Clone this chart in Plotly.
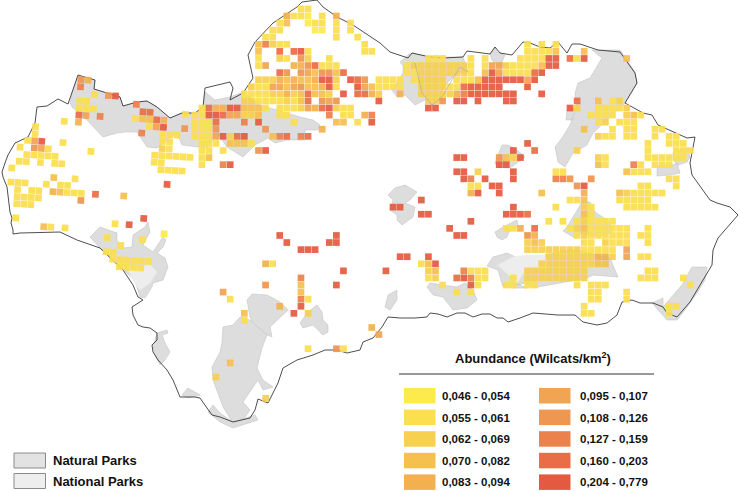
import math
import plotly.graph_objects as go

# Abundance class (0-9) of each grid cell, given as (row, first column, classes); '.' leaves a gap.
# Eastern part of the map, on the UTM zone 30 grid.
east_cells = [
(0,41,"11"),(1,39,"4110"),(1,44,"1"),(1,46,"4"),(2,38,"13"),(2,42,"011"),(2,46,"1"),(2,48,"1"),
(3,37,"11"),(3,43,"00"),(3,46,"1"),(3,48,"1"),(4,36,"11"),(4,46,"1"),(4,49,"1"),
(5,35,"37211"),(5,50,"1"),(5,73,"1"),(5,75,"1"),(5,77,"1"),
(6,35,"3"),(6,38,"8"),(6,40,"891"),(6,50,"11"),(6,73,"11113"),(6,81,"3"),
(7,35,"1"),(7,38,"21"),(7,41,"62"),(7,45,"1"),(7,59,"111"),(7,65,"1"),(7,67,"1"),(7,72,"111199"),(7,79,"819"),(7,87,"3"),
(8,35,"15"),(8,40,"4468111"),(8,56,"1222222221"),(8,67,"15521111399"),
(9,38,"86"),(9,41,"6536638"),(9,56,"1122222221"),(9,67,"395111189"),
(10,35,"222434334992"),(10,48,"986"),(10,52,"1111"),(10,57,"1"),(10,58,"2222"),(10,63,"111399999959"),
(11,34,"2115535633491"),(11,49,"9531111"),(11,58,"2222"),(11,62,"11899999"),(11,73,"9"),
(12,33,"1111224238332"),(12,47,"9"),(12,49,"8842"),(12,55,"4"),(12,58,"2222"),(12,62,"2479999999"),(12,75,"9"),
(13,33,"2211112138"),(13,44,"656"),(13,52,"9"),(13,59,"226"),(13,63,"99"),(13,66,"9"),(13,70,"99"),(13,80,"8"),(13,83,"3"),(13,85,"12"),
(14,27,"1844993331"),(14,38,"11125489211"),(14,59,"99"),(14,79,"92"),(14,83,"11112"),
(15,26,"1199855223"),(15,38,"11"),(15,45,"7"),(15,47,"11"),(15,50,"47"),(15,82,"1111"),(15,87,"231"),
(16,26,"1118"),(16,33,"7"),(16,35,"9"),(16,40,"1"),(16,46,"33"),(16,49,"1"),(16,51,"9"),(16,83,"12"),(16,86,"111"),
(17,26,"1116"),(17,36,"6"),(17,44,"4"),(17,81,"3"),(17,85,"1"),(17,87,"11"),(17,91,"11"),
(18,26,"11159289"),(18,37,"378"),(18,41,"78"),(18,83,"211"),(18,87,"11"),(18,91,"1"),(18,93,"11"),
(19,27,"111"),(19,31,"333"),(19,34,"1"),(19,73,"9"),(19,90,"1"),(19,93,"111"),
(20,27,"11"),(20,30,"1"),(20,35,"69"),(20,71,"9"),(20,74,"8"),(20,80,"2"),(20,90,"1"),(20,94,"111"),
(21,27,"13"),(21,63,"99"),(21,69,"6329"),(21,83,"21"),(21,90,"111111"),
(22,27,"1"),(22,30,"79"),(22,69,"99"),(22,83,"31"),(22,88,"71"),(22,91,"111"),
(23,63,"99"),(23,66,"2"),(23,71,"9"),(23,77,"11"),(23,87,"3111"),
(24,64,"97"),(24,67,"9"),(24,71,"9"),(24,77,"776"),(24,82,"6"),(24,93,"11"),
(25,65,"11"),(25,68,"99"),(25,80,"69"),(25,89,"11"),(25,94,"1"),
(26,65,"49"),(26,69,"9"),(26,75,"3"),(26,81,"4"),(26,86,"3211111"),
(27,58,"9"),(27,79,"113"),(27,86,"11111"),
(28,54,"99"),(28,71,"9"),(28,77,"1"),(28,81,"21"),(28,87,"11111"),
(29,58,"99"),(29,70,"9998"),(29,81,"31"),
(30,65,"9"),(30,76,"1"),(30,78,"1"),(30,80,"121111"),
(31,62,"9"),(31,70,"114"),(31,74,"8"),(31,79,"123111111"),(31,90,"1"),
(32,38,"9"),(32,46,"9"),(32,63,"99"),(32,73,"64"),(32,80,"12111111"),(32,89,"11"),
(33,39,"9"),(33,45,"99"),(33,73,"232"),(33,81,"11"),(33,84,"2111"),(33,90,"1"),
(34,41,"999"),(34,73,"2222222211111"),(34,87,"5"),
(35,55,"99"),(35,59,"9"),(35,76,"2222222442"),(35,87,"5"),(35,89,"11"),
(36,36,"41"),(36,58,"139"),(36,75,"2222222233"),
(37,47,"9"),(37,53,"9"),(37,59,"23"),(37,64,"7111"),(37,73,"222222222"),(37,90,"11"),
(38,41,"7"),(38,59,"12"),(38,63,"89711"),(38,71,"1"),(38,73,"22"),(38,75,"2222222"),(38,89,"111"),(38,95,"1"),
(39,36,"6"),(39,41,"3"),(39,46,"9"),(39,61,"1"),(39,65,"91"),(39,70,"11"),(39,73,"11"),(39,80,"1"),(39,82,"111"),(39,96,"1"),
(40,30,"5"),(40,41,"3"),(40,63,"1"),(40,65,"1"),(40,82,"11"),(40,87,"1"),
(41,31,"1"),(41,41,"71"),(41,82,"11"),(41,87,"1"),
(42,38,"4"),(42,41,"9"),(42,81,"1"),(42,93,"11"),
(43,33,"3"),(43,40,"9"),(43,42,"2"),(43,81,"11"),(43,93,"1"),
(44,33,"1"),(45,51,"4"),(46,52,"5"),(48,42,"1"),(48,46,"61"),(50,31,"3"),(52,29,"2"),(55,36,"2"),
]

# Western part of the map, on the slightly rotated UTM zone 29 grid.
west_cells = [
(0,0,"64"),(1,0,"7"),(2,2,"1"),(2,4,"69"),(3,0,"11"),(3,8,"7"),(4,0,"111"),(4,9,"88"),(4,15,"1"),
(5,0,"85"),(5,3,"7"),(5,8,"13384"),(6,-2,"1"),(6,0,"4"),(6,10,"159"),(6,15,"6"),
(7,-6,"1"),(7,9,"7"),(7,12,"111"),(8,-6,"1"),(8,12,"11"),(9,-7,"159"),(9,-2,"1"),(9,12,"21"),
(10,-8,"1"),(10,-6,"651"),(10,2,"1"),(10,11,"111"),(10,14,"111"),
(11,-7,"11111"),(11,11,"11"),(12,-8,"11"),(12,-5,"1"),(12,-3,"11"),(12,12,"1111"),(13,-9,"1"),
(14,-3,"3"),(14,0,"1"),(14,13,"9"),(15,-9,"111"),(15,-4,"1"),(15,-2,"11"),
(16,-8,"1"),(16,-6,"11"),(16,-3,"43111"),(16,3,"8"),(16,7,"3"),
(17,-8,"1111"),(17,1,"6"),(18,-8,"111"),(19,10,"9"),(20,-8,"1"),(20,6,"1"),(20,8,"9"),
(21,-4,"31"),(21,-1,"1"),(21,13,"0"),(22,5,"1"),(22,10,"1"),(23,7,"1"),
(24,5,"11"),(25,6,"111111"),(26,7,"1111"),
]

class_colors = ["#FDEB4C","#FBDF4F","#F8D04F","#F5C04E","#F3B04E","#F1A552","#EF9650","#EB824C","#E96D46","#E45A41"]
range_labels = ["0,046 - 0,054","0,055 - 0,061","0,062 - 0,069","0,070 - 0,082","0,083 - 0,094",
                "0,095 - 0,107","0,108 - 0,126","0,127 - 0,159","0,160 - 0,203","0,204 - 0,779"]

region_border = [(13,234),(13,230),(11,223),(12,218),(10,212),(8,198),(7,187),(3,177),(2,172),(5,163),(8,155),(15,143),(28,137),(35,123),(37,107),(47,106),(58,99),(68,104),(72,93),(78,75),(95,80),(94,89),(107,93),(120,97),(123,106),(137,102),(147,101),(157,107),(170,118),(182,113),(195,113),(203,107),(205,88),(230,82),(233,88),(230,100),(243,93),(253,78),(248,55),(255,42),(273,23),(297,7),(302,2),(317,0),(323,7),(337,17),(353,25),(372,38),(380,43),(390,52),(408,58),(412,53),(430,57),(443,58),(463,57),(467,51),(490,54),(495,47),(500,53),(512,55),(523,42),(530,43),(540,47),(550,48),(558,42),(567,53),(572,44),(580,44),(598,50),(620,52),(635,73),(637,83),(625,103),(643,113),(652,115),(658,125),(677,133),(687,138),(695,137),(690,163),(692,175),(710,200),(717,203),(730,207),(738,215),(732,222),(718,238),(713,250),(712,265),(703,280),(697,290),(690,302),(677,317),(667,313),(663,307),(653,303),(640,303),(632,300),(622,302),(617,315),(607,323),(597,325),(583,322),(575,315),(558,315),(533,313),(520,318),(508,322),(503,318),(497,318),(490,314),(482,314),(473,317),(465,313),(457,313),(447,317),(438,314),(430,313),(427,317),(415,318),(400,318),(388,317),(382,327),(373,338),(363,342),(360,350),(347,353),(337,350),(325,350),(313,355),(297,360),(283,368),(278,383),(268,403),(258,399),(255,410),(250,418),(233,422),(220,417),(212,415),(207,408),(200,398),(195,397),(180,397),(173,380),(167,370),(158,360),(153,352),(152,345),(157,340),(157,333),(150,328),(143,327),(138,325),(133,315),(132,307),(143,300),(138,297),(133,285),(123,270),(100,248),(77,240),(60,232),(20,233),(13,234)]

natural_parks = [
[(70,103),(72,93),(78,76),(95,80),(94,89),(107,93),(120,97),(123,106),(137,102),(147,101),(157,107),(170,118),(182,113),(195,113),(203,107),(205,92),(215,100),(230,97),(243,92),(260,105),(300,117),(313,120),(320,125),(318,130),(305,130),(305,140),(287,140),(275,143),(268,138),(255,145),(243,157),(227,147),(217,133),(207,148),(197,147),(182,145),(177,133),(167,140),(157,148),(147,147),(137,132),(125,132),(117,133),(103,137),(87,120),(72,107)],
[(408,55),(412,53),(430,57),(463,57),(468,72),(457,73),(448,82),(443,88),(440,100),(432,105),(425,100),(415,105),(405,95),(397,97),(392,90),(403,73),(403,66),(400,62)],
[(495,47),(497,52),(505,55),(502,62),(505,65),(500,68),(492,60),(490,54)],
[(592,50),(620,50),(635,72),(637,83),(625,103),(612,115),(602,125),(593,133),(587,145),(573,153),(565,167),(558,162),(555,147),(562,138),(570,125),(577,107),(575,93),(578,83),(590,78),(602,58)],
[(567,110),(575,108),(572,120),(566,120)],
[(673,153),(687,148),(690,157),(687,162),(678,165),(673,160)],
[(657,167),(662,162),(668,167),(677,163),(680,173),(670,175),(657,176)],
[(563,231),(567,227),(582,202),(590,202),(595,212),(610,222),(612,232),(600,237),(580,233),(575,238)],
[(487,266),(493,257),(507,253),(522,260),(570,250),(577,250),(610,258),(618,277),(593,275),(587,278),(533,288),(525,283),(518,285),(515,283),(527,288),(515,288),(503,287),(498,270)],
[(497,237),(495,232),(503,227),(517,220),(518,227),(510,230),(507,237),(502,240)],
[(388,195),(395,188),(405,185),(417,192),(410,200),(405,203),(415,207),(413,217),(402,225),(397,220),(397,215),(390,210),(393,200)],
[(495,163),(502,145),(508,145),(517,150),(525,157),(518,162),(510,168),(498,167)],
[(427,287),(430,283),(442,285),(457,287),(465,283),(473,290),(477,300),(467,308),(453,310),(443,297),(433,295)],
[(385,307),(388,295),(397,290),(397,300),(390,310)],
[(300,323),(308,312),(317,305),(322,312),(323,320),(328,325),(328,332),(323,335),(313,325),(303,328)],
[(247,300),(252,294),(267,295),(280,302),(288,310),(277,320),(270,327),(272,337),(263,333),(255,328),(250,317)],
[(223,327),(233,325),(240,317),(250,320),(267,335),(262,348),(257,368),(263,380),(273,387),(263,390),(258,380),(243,402),(250,410),(243,420),(233,423),(223,407),(213,380),(212,367),(220,352),(222,342)],
[(208,412),(213,405),(220,413),(233,422),(255,415),(258,420),(233,428),(220,422)],
[(90,237),(100,227),(117,233),(117,240),(120,248),(123,248),(132,247),(133,235),(145,227),(148,222),(150,232),(143,245),(153,252),(163,237),(166,240),(163,247),(157,253),(165,258),(168,267),(163,280),(153,283),(152,287),(145,298),(140,297),(135,280),(123,270),(100,248)],
[(652,303),(663,298),(663,307),(678,290),(682,285),(692,267),(707,267),(705,280),(697,293),(685,310),(677,320),(667,320)],
[(188,388),(197,393),(200,395),(188,398),(182,395)],
[(157,333),(167,330),(168,333),(162,335),(165,343),(170,352),(165,360),(160,365),(155,355),(153,347)],
]
national_parks = [
[(498,265),(513,257),(527,255),(547,255),(547,267),(527,268),(517,283),(507,273)],
[(127,267),(150,265),(157,272),(150,283),(140,290),(133,280)],
]
park_divide = [(415,63),(422,93),(432,105),(442,97),(452,80),(460,67),(468,72)]

GRID_STEP = 7.08
EAST_ORIGIN = (10.7, 8.9)
WEST_ORIGIN = (81.0, 79.7)
WEST_TILT = 0.06


def expand(cells):
    out = []
    for row, col0, classes in cells:
        for i, ch in enumerate(classes):
            if ch != ".":
                out.append((col0 + i, row, int(ch)))
    return out


fig = go.Figure()
for poly in natural_parks:
    fig.add_trace(go.Scatter(x=[p[0] for p in poly] + [poly[0][0]], y=[p[1] for p in poly] + [poly[0][1]],
                             mode="lines", fill="toself", fillcolor="#DDDDDD",
                             line=dict(color="#BDBDBD", width=0.5), hoverinfo="skip"))
for poly in national_parks:
    fig.add_trace(go.Scatter(x=[p[0] for p in poly] + [poly[0][0]], y=[p[1] for p in poly] + [poly[0][1]],
                             mode="lines", fill="toself", fillcolor="#EDEDED",
                             line=dict(color="#EDEDED", width=0.5), hoverinfo="skip"))
fig.add_trace(go.Scatter(x=[p[0] for p in region_border], y=[p[1] for p in region_border], mode="lines",
                         line=dict(color="#3A3A3A", width=0.9), hoverinfo="skip"))

east = expand(east_cells)
fig.add_trace(go.Scatter(
    x=[EAST_ORIGIN[0] + GRID_STEP * c for c, r, k in east],
    y=[EAST_ORIGIN[1] + GRID_STEP * r for c, r, k in east],
    mode="markers", hoverinfo="skip",
    marker=dict(symbol="square", size=6.7, opacity=0.93, color=[class_colors[k] for c, r, k in east], line=dict(width=0))))
west = expand(west_cells)
fig.add_trace(go.Scatter(
    x=[WEST_ORIGIN[0] + GRID_STEP * (c - WEST_TILT * r) for c, r, k in west],
    y=[WEST_ORIGIN[1] + GRID_STEP * (r + WEST_TILT * c) for c, r, k in west],
    mode="markers", hoverinfo="skip",
    marker=dict(symbol="square", size=6.7, opacity=0.93, angle=math.degrees(math.atan(WEST_TILT)),
                color=[class_colors[k] for c, r, k in west], line=dict(width=0))))
fig.add_trace(go.Scatter(x=[p[0] for p in park_divide], y=[p[1] for p in park_divide], mode="lines",
                         line=dict(color="#A8A8A8", width=0.6), hoverinfo="skip"))

FONT = "Liberation Sans"
shapes = [dict(type="line", x0=399, x1=654, y0=374, y1=374, line=dict(color="#333333", width=1))]
annotations = [dict(x=533, y=358, text="<b>Abundance (Wilcats/km<sup>2</sup>)</b>", showarrow=False,
                    font=dict(family=FONT, size=13, color="#111111"), xanchor="center", yanchor="middle")]
for i, (color, label) in enumerate(zip(class_colors, range_labels)):
    col = i // 5
    row = i % 5
    x0 = 404 + col * 135
    y0 = 388 + row * 21.6
    shapes.append(dict(type="rect", x0=x0, x1=x0 + 31.5, y0=y0, y1=y0 + 15.5, fillcolor=color, line=dict(width=0)))
    annotations.append(dict(x=x0 + 36 + col * 2.5, y=y0 + 8, text="<b>%s</b>" % label, showarrow=False, xanchor="left",
                            yanchor="middle", font=dict(family=FONT, size=11.5, color="#111111")))
for y0, fill, label in [(453, "#E2E2E2", "Natural Parks"), (473.5, "#EEEEEE", "National Parks")]:
    shapes.append(dict(type="rect", x0=14, x1=45.5, y0=y0, y1=y0 + 15, fillcolor=fill,
                       line=dict(color="#8A8A8A", width=1)))
    annotations.append(dict(x=50.5, y=y0 + 7.5, text="<b>%s</b>" % label, showarrow=False, xanchor="left",
                            yanchor="middle", font=dict(family=FONT, size=13, color="#111111")))

fig.update_layout(
    width=740, height=491, margin=dict(l=0, r=0, t=0, b=0), showlegend=False,
    paper_bgcolor="white", plot_bgcolor="white", shapes=shapes, annotations=annotations,
    xaxis=dict(range=[0, 740], visible=False, fixedrange=True),
    yaxis=dict(range=[491, 0], visible=False, fixedrange=True),
)
fig.write_html("out.html", config=dict(displayModeBar=False),
               post_script="document.body.style.margin='0';document.documentElement.style.overflow='hidden';")
